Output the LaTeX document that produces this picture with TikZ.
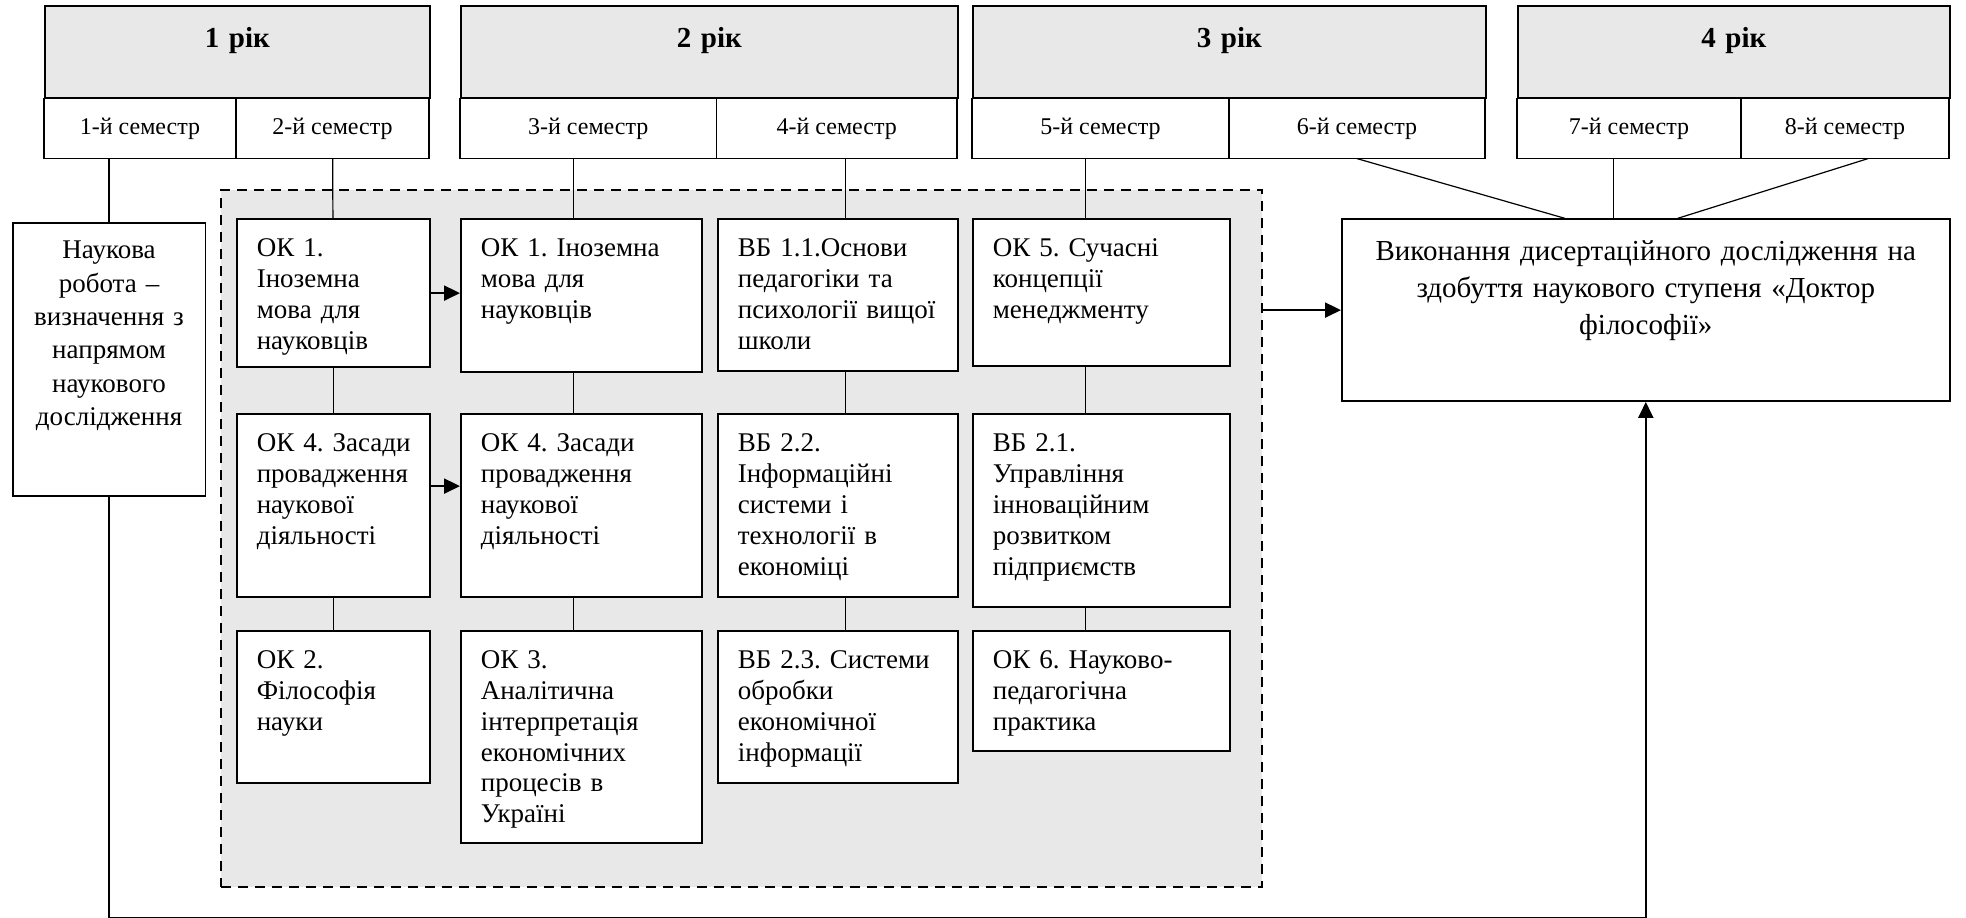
\documentclass[tikz,border=0pt]{standalone}
\usepackage{fontspec}
\setmainfont{Liberation Serif}
\usetikzlibrary{positioning,arrows.meta}
\frenchspacing

\definecolor{siryi}{HTML}{E8E8E8}
\tikzset{
  rik/.style={draw, fill=siryi, anchor=north west, inner sep=0pt, line width=0.8pt,
    align=center, text height=20.65pt, text depth=25.35pt,
    font=\fontsize{14.5}{17}\selectfont\bfseries},
  sem/.style={draw, fill=white, inner sep=0pt, outer sep=0pt, minimum height=30pt, line width=0.8pt,
    font=\fontsize{12}{14}\selectfont},
  kurs/.style={draw, fill=white, anchor=north west, inner xsep=10pt, inner ysep=0pt,
    line width=0.8pt, align=left, text height=18.94pt,
    font=\fontsize{13.5}{15.4}\selectfont},
  zv/.style={line width=0.6pt},
  strilka/.style={line width=1.1pt, -{Triangle[length=8pt,width=7.5pt]}},
}

\begin{document}
\begin{tikzpicture}[x=0.5pt,y=-0.5pt]
  \useasboundingbox (0,0) rectangle (1966,917);

  % dashed block with the courses
  \node[draw, dash pattern=on 5pt off 3.5pt, line width=1pt, fill=siryi, anchor=north west,
    minimum width=520.5pt, minimum height=348.75pt, inner sep=0pt] (blok) at (220,188.5) {};

  % years and semesters
  \node[rik, text width=192.5pt] (rik1) at (44,5) {1 рік};
  \node[sem, minimum width=96pt, anchor=north west] (sem1) at (rik1.south west) {1-й семестр};
  \node[sem, minimum width=96.5pt, right=0pt of sem1] (sem2) {2-й семестр};

  \node[rik, text width=248.5pt] (rik2) at (460,5) {2 рік};
  \node[sem, minimum width=128.25pt, anchor=north west] (sem3) at (rik2.south west) {3-й семестр};
  \node[sem, minimum width=120.25pt, right=0pt of sem3] (sem4) {4-й семестр};

  \node[rik, text width=256.5pt] (rik3) at (972,5) {3 рік};
  \node[sem, minimum width=128.5pt, anchor=north west] (sem5) at (rik3.south west) {5-й семестр};
  \node[sem, minimum width=128pt, right=0pt of sem5] (sem6) {6-й семестр};

  \node[rik, text width=216pt] (rik4) at (1517,5) {4 рік};
  \node[sem, minimum width=112pt, anchor=north west] (sem7) at (rik4.south west) {7-й семестр};
  \node[sem, minimum width=104pt, right=0pt of sem7] (sem8) {8-й семестр};

  % research work and dissertation
  \node[draw, line width=0.8pt, anchor=north west, inner xsep=5pt, inner ysep=0pt, align=center,
    text width=86.25pt, text height=17.94pt, text depth=118.56pt,
    font=\fontsize{13.5}{16.7}\selectfont] (nauka) at (12,222)
    {Наукова\\ робота –\\ визначення з\\ напрямом\\ наукового\\ дослідження};
  \node[draw, line width=0.8pt, anchor=north west, inner xsep=7pt, inner ysep=0pt, align=center,
    text width=290pt, text height=20.6pt, text depth=70.4pt,
    font=\fontsize{14.5}{18.5}\selectfont] (dys) at (1341,218.3)
    {Виконання дисертаційного дослідження на\\ здобуття наукового ступеня «Доктор\\ філософії»};

  % courses, semester 2
  \node[kurs, text width=76.5pt, text depth=55.06pt] (k21) at (236,218.3) {ОК 1.\\ Іноземна\\ мова для\\ науковців};
  \node[kurs, text width=76.5pt, text depth=72.56pt] (k22) at (236,413.3) {\mbox{ОК 4. Засади}\\ провадження\\ наукової\\ діяльності};
  \node[kurs, text width=76.5pt, text depth=57.06pt] (k23) at (236,630) {ОК 2.\\ Філософія\\ науки};
  % semester 3
  \node[kurs, text width=100.5pt, text depth=57.56pt] (k31) at (460,218.3) {ОК 1. Іноземна\\ мова для\\ науковців};
  \node[kurs, text width=100.5pt, text depth=72.56pt] (k32) at (460,413.3) {ОК 4. Засади\\ провадження\\ наукової\\ діяльності};
  \node[kurs, text width=100.5pt, text depth=87.06pt] (k33) at (460,630) {ОК 3.\\ Аналітична\\ інтерпретація\\ економічних\\ процесів в\\ Україні};
  % semester 4
  \node[kurs, text width=100pt, text depth=57.06pt] (k41) at (717,218.3) {ВБ 1.1.Основи\\ педагогіки та\\ \mbox{психології вищої}\\ школи};
  \node[kurs, text width=100pt, text depth=72.56pt] (k42) at (717,413.3) {ВБ 2.2.\\ Інформаційні\\ системи і\\ технології в\\ економіці};
  \node[kurs, text width=100pt, text depth=57.06pt] (k43) at (717,630) {ВБ 2.3. Системи\\ обробки\\ економічної\\ інформації};
  % semester 5
  \node[kurs, text width=108.5pt, text depth=54.56pt] (k51) at (972,218.3) {ОК 5. Сучасні\\ концепції\\ менеджменту};
  \node[kurs, text width=108.5pt, text depth=77.56pt] (k52) at (972,413.3) {ВБ 2.1.\\ Управління\\ інноваційним\\ розвитком\\ підприємств};
  \node[kurs, text width=108.5pt, text depth=41.06pt] (k53) at (972,630) {ОК 6. Науково-\\ педагогічна\\ практика};

  % semesters to boxes
  \draw[zv] (nauka.north) -- (nauka.north |- sem1.south);
  \draw[zv] (sem2) -- (k21);
  \draw[zv] ([xshift=-3.85pt]k31.north) -- ([xshift=-3.85pt]k31.north |- sem3.south);
  \draw[zv] ([xshift=3.75pt]k41.north) -- ([xshift=3.75pt]k41.north |- sem4.south);
  \draw[zv] ([xshift=-7.75pt]k51.north) -- ([xshift=-7.75pt]k51.north |- sem5.south);
  \draw[zv] (sem6.south) -- ([xshift=-40.5pt]dys.north);
  \draw[zv] ([xshift=-16pt]dys.north) -- ([xshift=-16pt]dys.north |- sem7.south);
  \draw[zv] ([xshift=11.5pt]sem8.south) -- ([xshift=16pt]dys.north);

  % inside the columns
  \draw[zv] (k21) -- (k22);
  \draw[zv] (k22) -- (k23);
  \draw[zv] ([xshift=-3.85pt]k31.south) -- ([xshift=-3.85pt]k32.north);
  \draw[zv] ([xshift=-3.85pt]k32.south) -- ([xshift=-3.85pt]k33.north);
  \draw[zv] ([xshift=3.75pt]k41.south) -- ([xshift=3.75pt]k42.north);
  \draw[zv] ([xshift=3.75pt]k42.south) -- ([xshift=3.75pt]k43.north);
  \draw[zv] ([xshift=-7.75pt]k51.south) -- ([xshift=-7.75pt]k52.north);
  \draw[zv] ([xshift=-7.75pt]k52.south) -- ([xshift=-7.75pt]k53.north);

  % arrows
  \draw[strilka] (k21.east) -- (k21.east -| k31.west);
  \draw[strilka] ([yshift=9.75pt]k22.east) -- ([yshift=9.75pt]k22.east -| k32.west);
  \draw[strilka] (dys.west -| blok.east) -- (dys.west);
  \coordinate (niz) at (108.5,917.8);
  \draw[strilka] (nauka.south) -- (nauka.south |- niz) -| (dys.south);
\end{tikzpicture}
\end{document}
